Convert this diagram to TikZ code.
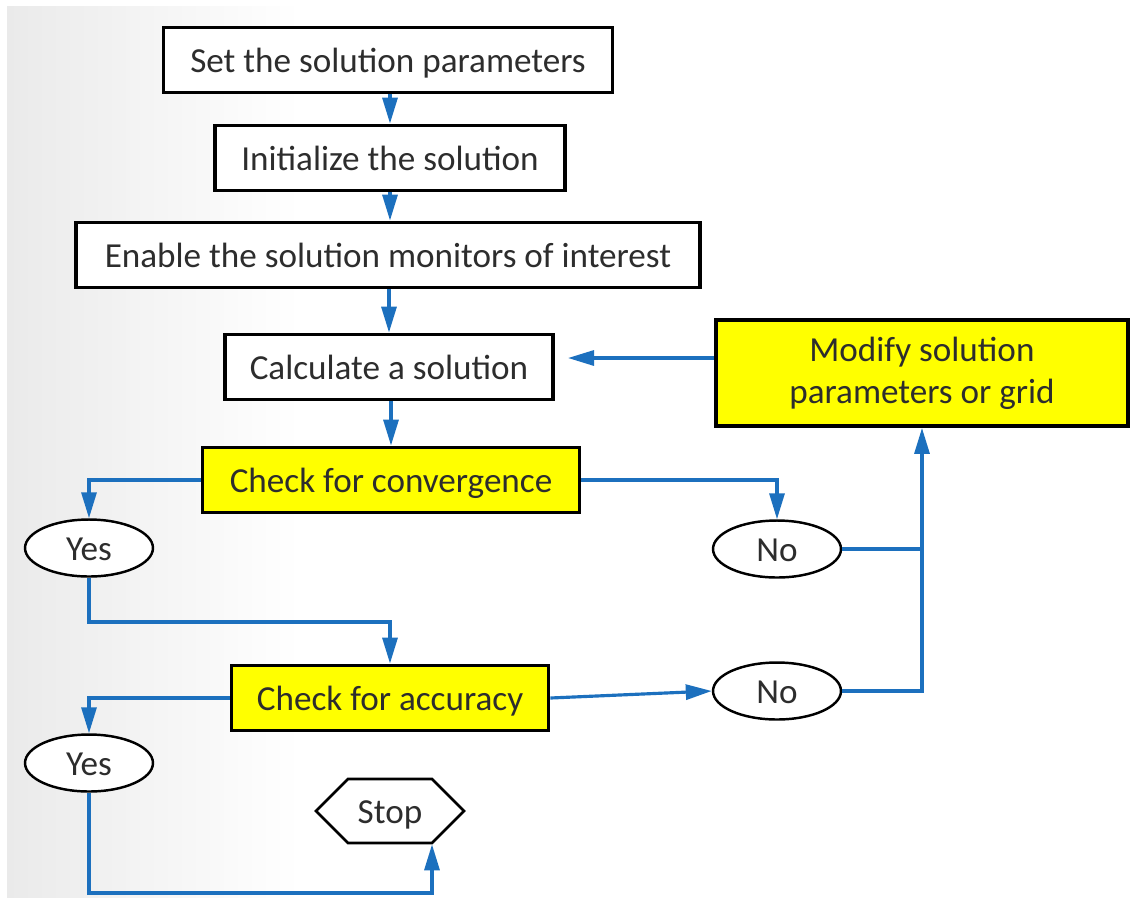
\documentclass[tikz,border=0pt]{standalone}
\usepackage{fontspec}
\setmainfont{Carlito}
\usetikzlibrary{arrows.meta,shapes.geometric,shapes.symbols}
\definecolor{flowblue}{RGB}{28,112,190}
\definecolor{boxyellow}{RGB}{255,255,0}
\definecolor{inkgray}{RGB}{45,45,45}
\definecolor{panelgray}{RGB}{234,234,234}

\begin{document}
\begin{tikzpicture}[x=0.02cm,y=-0.02cm,
  every node/.style={font=\fontsize{20}{24}\selectfont, text=inkgray},
  oneline/.style={text height=18.5pt, text depth=4.2pt},
  stepbox/.style={draw=black, line width=2.2pt, fill=white, minimum height=1.3cm, inner sep=0pt},
  hilite/.style={stepbox, fill=boxyellow},
  answer/.style={ellipse, draw=black, line width=1.4pt, fill=white, oneline,
    minimum width=2.56cm, minimum height=1.14cm, inner sep=0pt},
  flow/.style={draw=flowblue, line width=1.8pt, -{Triangle[length=0.52cm,width=0.3cm]}},
  link/.style={draw=flowblue, line width=1.8pt}
]
% page and soft grey panel on the left
\useasboundingbox (0,0) rectangle (1130,897);
\fill[white] (0,0) rectangle (1130,897);
\shade[left color=panelgray, right color=white] (7,6) rectangle (300,897);

% main column of steps
\node[stepbox, oneline, minimum width=8.98cm] (set) at (388,60) {Set the solution parameters};
\node[stepbox, oneline, minimum width=7.0cm] (init) at (390,158) {Initialize the solution};
\node[stepbox, oneline, minimum width=12.48cm] (enable) at (388,255) {Enable the solution monitors of interest};
\node[stepbox, oneline, minimum width=6.56cm] (calc) at (389,367) {Calculate a solution};
\node[hilite, minimum width=8.24cm, minimum height=2.12cm, align=center] (modify) at (922,373)
  {Modify solution\\parameters or grid};
\node[hilite, oneline, minimum width=7.54cm] (conv) at (391,480) {Check for convergence};
\node[hilite, oneline, minimum width=6.34cm] (acc) at (390,698) {Check for accuracy};

% decision outcomes
\node[answer] (yes1) at (89,548) {Yes};
\node[answer] (no1) at (777,549) {No};
\node[answer] (no2) at (777,691) {No};
\node[answer] (yes2) at (89,763) {Yes};

% terminal
\node[signal, signal to=east and west, draw=black, line width=1.5pt, fill=white, oneline,
  minimum width=2.96cm, minimum height=1.28cm, inner sep=0pt] (stop) at (390,811) {Stop};

% helper points for the routed connectors
\coordinate (back) at (568,358);
\coordinate (j1) at (89,622);
\coordinate (j2) at (89,893);
\coordinate (j3) at (432,893);

% connectors
\draw[flow] (set.south -| init.north) -- (init.north);
\draw[flow] (init.south) -- (init.south |- enable.north);
\draw[flow] (enable.south -| calc.north) -- (calc.north);
\draw[flow] (calc.south -| conv.north) -- (conv.north);
\draw[flow] (modify.west |- back) -- (back);
\draw[flow] (conv.west) -| (yes1.north);
\draw[flow] (conv.east) -| (no1.north);
\draw[flow] (yes1.south) -- (j1) -| (acc.north);
\draw[flow] (acc.west) -| (yes2.north);
\draw[flow] (acc.east) -- (no2.west);
\draw[link] (no1.east) -- (no1.east -| modify.south);
\draw[flow] (no2.east) -| (modify.south);
\draw[flow] (yes2.south) -- (j2) -- (j3) -- (j3 |- stop.south);
\end{tikzpicture}
\end{document}
